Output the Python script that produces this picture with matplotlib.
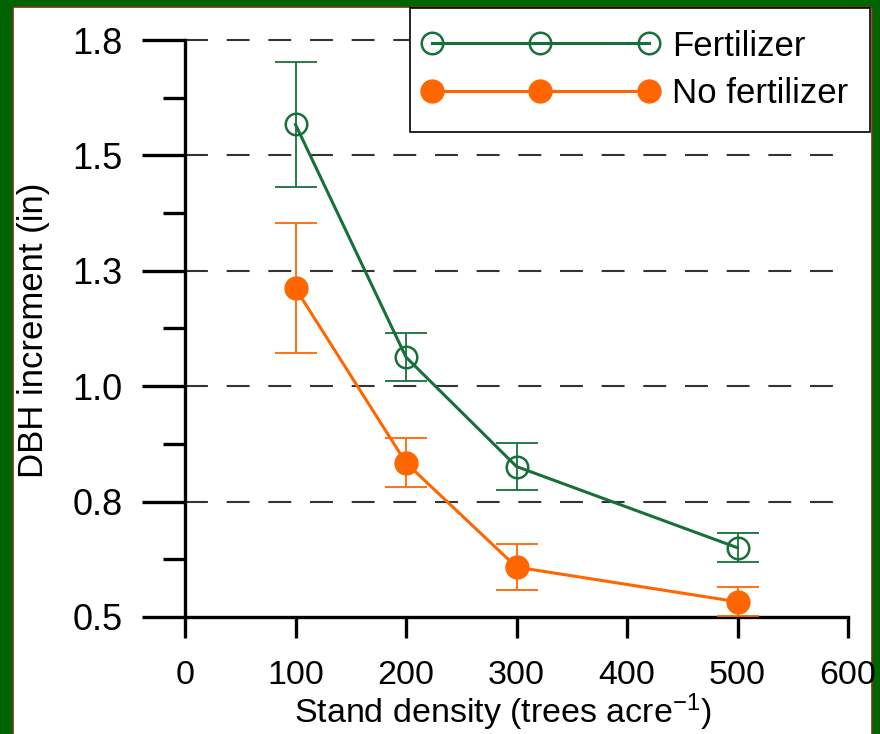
import numpy as np
import matplotlib.pyplot as plt
from matplotlib.patches import Rectangle
from matplotlib.lines import Line2D
from matplotlib.legend_handler import HandlerLine2D
from matplotlib.ticker import FixedLocator

plt.rcParams['font.family'] = ['Liberation Sans', 'DejaVu Sans']
plt.rcParams['mathtext.fontset'] = 'custom'
plt.rcParams['mathtext.rm'] = 'Liberation Sans'
plt.rcParams['mathtext.it'] = 'Liberation Sans:italic'

# values (mean +/- error)
density = [100, 200, 300, 500]
fert_mean = [1.567, 1.063, 0.826, 0.650]
fert_err = [0.136, 0.052, 0.050, 0.031]
nofert_mean = [1.212, 0.834, 0.608, 0.533]
nofert_err = [0.141, 0.053, 0.050, 0.031]

y_ticks = [0.5, 0.75, 1.0, 1.25, 1.5, 1.75]
y_tick_labels = ['0.5', '0.8', '1.0', '1.3', '1.5', '1.8']
y_minor = [0.625, 0.875, 1.125, 1.375, 1.625]
x_ticks = [0, 100, 200, 300, 400, 500, 600]

GREEN = '#17703a'
ORANGE = '#ff6600'

fig = plt.figure(figsize=(8.8, 7.34), dpi=100, facecolor='#006400')
# white slide panel with a thin brown edge
fig.patches.append(Rectangle((13 / 880, -0.01), (872 - 13) / 880, (727 / 734) + 0.01,
                             transform=fig.transFigure, facecolor='white',
                             edgecolor='#6b3a10', linewidth=1.2, zorder=-10))

ax = fig.add_axes([185 / 880, 117 / 734, 663 / 880, 577 / 734])
ax.set_facecolor('none')

# dashed reference lines
for y in y_ticks[1:]:
    ax.axhline(y, color='#333333', lw=1.5, dashes=(11, 9), zorder=1, clip_on=False)

ax.errorbar(density, fert_mean, yerr=fert_err, fmt='none', ecolor=GREEN,
            elinewidth=1.3, capsize=15, capthick=1.3, zorder=3, clip_on=False)
ax.errorbar(density, nofert_mean, yerr=nofert_err, fmt='none', ecolor=ORANGE,
            elinewidth=1.3, capsize=15, capthick=1.3, zorder=3, clip_on=False)
ax.plot(density, fert_mean, color=GREEN, lw=2.2, marker='o', ms=15.5, mfc='none',
        mec=GREEN, mew=1.8, label='Fertilizer', zorder=4)
ax.plot(density, nofert_mean, color=ORANGE, lw=2.2, marker='o', ms=16.5,
        mfc=ORANGE, mec=ORANGE, label='No fertilizer', zorder=4, clip_on=False)

ax.set_xlim(0, 600)
ax.set_ylim(0.5, 1.75)
ax.set_xticks(x_ticks)
ax.set_yticks(y_ticks)
ax.set_yticklabels(y_tick_labels)
ax.yaxis.set_minor_locator(FixedLocator(y_minor))

for side in ['top', 'right']:
    ax.spines[side].set_visible(False)
for side in ['left', 'bottom']:
    ax.spines[side].set_linewidth(2.4)

ax.tick_params(axis='y', which='major', direction='out', length=31, width=2.4,
               pad=14, labelsize=26)
ax.tick_params(axis='y', which='minor', direction='out', length=16, width=2.4)
ax.tick_params(axis='x', which='major', direction='out', length=15, width=2.4,
               pad=16, labelsize=24.5)

ax.set_xlabel(r'Stand density (trees acre$^{-1}$)', fontsize=24.5)
ax.xaxis.set_label_coords(0.479, -0.129)
ax.set_ylabel('DBH increment (in)', fontsize=25)
ax.yaxis.set_label_coords(-0.204, 0.497)

leg = ax.legend(loc='upper right', bbox_to_anchor=(870 / 880, 726 / 734),
                bbox_transform=fig.transFigure, numpoints=3, handlelength=6.25,
                handletextpad=0.68, borderpad=0.62, labelspacing=0.42, fontsize=25,
                frameon=True, fancybox=False, borderaxespad=0, framealpha=1,
                handler_map={Line2D: HandlerLine2D(marker_pad=0)})
leg.get_frame().set_edgecolor('black')
leg.get_frame().set_linewidth(1.2)

fig.savefig('out.png', dpi=100, facecolor=fig.get_facecolor())
